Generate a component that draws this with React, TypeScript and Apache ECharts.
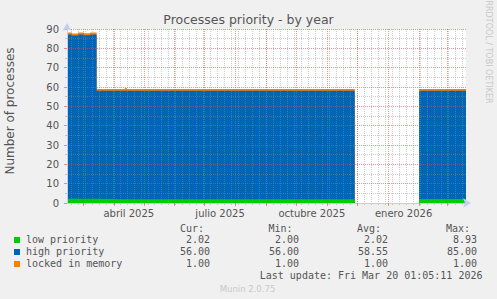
import React, { useEffect, useRef } from "react";
import * as echarts from "echarts";

// ---- data ----
const times = [
  "2025-02-13T01:05:00Z",
  "2025-02-18T00:00:00Z",
  "2025-02-24T00:00:00Z",
  "2025-03-02T00:00:00Z",
  "2025-03-08T00:00:00Z",
  "2025-03-14T18:00:00Z",
  "2025-04-12T00:00:00Z",
  "2025-04-14T00:00:00Z",
  "2025-11-28T12:00:00Z",
  "2025-11-28T12:01:00Z",
  "2026-02-01T00:00:00Z",
  "2026-03-20T01:05:00Z",
];
const lowPriority = [2.2, 2.2, 2.2, 2.2, 2.2, 2.0, 2.0, 2.0, 2.0, null, 2.02, 2.02];
const highPriority = [85, 84.5, 85, 84.6, 85, 56, 56, 56, 56, null, 56, 56];
const lockedInMemory = [1, 1, 1, 1, 1, 1, 1.5, 1, 1, null, 1, 1];

const axisStart = "2025-02-13T01:05:00Z";
const axisEnd = "2026-03-20T01:05:00Z";
const labelMonths = ["2025-04", "2025-07", "2025-10", "2026-01"];
const monthNames = ["enero", "febrero", "marzo", "abril", "mayo", "junio", "julio", "agosto", "septiembre", "octubre", "noviembre", "diciembre"];

const legendRows = [
  { name: "low priority", color: "#00CC00", cur: "2.02", min: "2.00", avg: "2.02", max: "8.93" },
  { name: "high priority", color: "#0066B3", cur: "56.00", min: "56.00", avg: "58.55", max: "85.00" },
  { name: "locked in memory", color: "#FF8000", cur: "1.00", min: "1.00", avg: "1.00", max: "1.00" },
];
const lastUpdate = "Last update: Fri Mar 20 01:05:11 2026";

export default function App() {
  const ref = useRef<HTMLDivElement>(null);
  useEffect(() => {
    if (!ref.current) return;
    const chart = echarts.init(ref.current, null, { renderer: "svg" });
    const t = times.map((s) => Date.parse(s));
    const min = Date.parse(axisStart);
    const max = Date.parse(axisEnd);

    // month boundaries
    const monthTicks: number[] = [];
    for (let y = 2025, m = 0; y < 2027; ) {
      const v = Date.UTC(y, m, 1);
      if (v > min && v < max) monthTicks.push(v);
      m++;
      if (m > 11) { m = 0; y++; }
    }
    // weekly (Mondays)
    const weekTicks: number[] = [];
    const firstMonday = Date.UTC(2025, 1, 17);
    for (let v = firstMonday; v < max; v += 7 * 86400000) weekTicks.push(v);
    const labelVals = labelMonths.map((s) => {
      const [y, m] = s.split("-").map(Number);
      return (Date.UTC(y, m - 1, 1) + Date.UTC(y, m, 1)) / 2;
    });

    // stacked totals (rrdtool AREA + STACK)
    const cum = (...arrs: (number | null)[][]) =>
      t.map((x, i) => {
        if (arrs.some((a) => a[i] === null)) return [x, "-"];
        return [x, arrs.reduce((s, a) => s + (a[i] as number), 0)];
      });

    const majorColor = "rgba(222,79,79,0.6)";
    const minorColor = "rgba(143,143,143,0.45)";
    const axisColor = "#c8ccf2";
    const textColor = "#555";
    const mono = "'DejaVu Sans Mono', monospace";

    const graphics: any[] = [
      { type: "text", x: 248.5, y: 19, style: { text: "Processes priority - by year", fill: textColor, font: "12.5px 'DejaVu Sans'", align: "center", verticalAlign: "middle" } },
      { type: "text", x: 10, y: 111, rotation: Math.PI / 2, style: { text: "Number of processes", fill: textColor, font: "12px 'DejaVu Sans'", align: "center", verticalAlign: "middle" } },
      { type: "text", x: 488, y: 52, rotation: -Math.PI / 2, style: { text: "RRDTOOL / TOBI OETIKER", fill: "#c8c8c8", font: "8px 'DejaVu Sans'", align: "center", verticalAlign: "middle" } },
      { type: "text", x: 204, y: 228, style: { text: "Cur:", fill: textColor, font: "10px " + mono, align: "right", verticalAlign: "middle" } },
      { type: "text", x: 292.5, y: 228, style: { text: "Min:", fill: textColor, font: "10px " + mono, align: "right", verticalAlign: "middle" } },
      { type: "text", x: 381, y: 228, style: { text: "Avg:", fill: textColor, font: "10px " + mono, align: "right", verticalAlign: "middle" } },
      { type: "text", x: 470, y: 228, style: { text: "Max:", fill: textColor, font: "10px " + mono, align: "right", verticalAlign: "middle" } },
      { type: "text", x: 482.5, y: 275.5, style: { text: lastUpdate, fill: textColor, font: "10px " + mono, align: "right", verticalAlign: "middle" } },
      { type: "text", x: 247.5, y: 288.5, style: { text: "Munin 2.0.75", fill: "#c8c8c8", font: "8.5px 'DejaVu Sans'", align: "center", verticalAlign: "middle" } },
    ];
    const rowY = [239.5, 251.5, 263.5];
    legendRows.forEach((r, i) => {
      const y = rowY[i];
      graphics.push({ type: "rect", shape: { x: 14, y: y - 2.5, width: 6, height: 6 }, style: { fill: r.color } });
      graphics.push({ type: "text", x: 26, y, style: { text: r.name, fill: textColor, font: "10px " + mono, align: "left", verticalAlign: "middle" } });
      [[r.cur, 210], [r.min, 299], [r.avg, 388], [r.max, 477]].forEach(([txt, x]) => {
        graphics.push({ type: "text", x, y, style: { text: txt, fill: textColor, font: "10px " + mono, align: "right", verticalAlign: "middle" } });
      });
    });

    const seriesBase = {
      type: "line" as const,
      step: "end" as const,
      showSymbol: false,
      symbol: "none",
      connectNulls: false,
      lineStyle: { width: 0 },
      xAxisIndex: 0,
      yAxisIndex: 0,
      z: 2,
    };

    chart.setOption({
      animation: false,
      backgroundColor: "#F0F0F0",
      grid: { left: 67, top: 29, width: 399, height: 174, show: true, backgroundColor: "#ffffff", borderWidth: 0, containLabel: false },
      xAxis: [
        {
          type: "value",
          min,
          max,
          z: 5,
          axisLine: { show: true, lineStyle: { color: axisColor, width: 1 }, symbol: ["none", "arrow"], symbolSize: [7, 8], symbolOffset: [0, 5] },
          axisTick: { show: true, customValues: monthTicks, length: 3, lineStyle: { color: majorColor } },
          splitLine: { show: true, lineStyle: { color: majorColor, type: [1, 1], width: 1 } },
          axisLabel: {
            show: true,
            customValues: labelVals,
            margin: 5,
            color: textColor,
            fontSize: 10,
            fontFamily: "DejaVu Sans",
            formatter: (v: number) => {
              const d = new Date(v);
              return monthNames[d.getUTCMonth()] + " " + d.getUTCFullYear();
            },
          },
        },
        {
          type: "value",
          min,
          max,
          z: 4,
          position: "bottom",
          axisLine: { show: false },
          axisTick: { show: true, customValues: weekTicks, length: 2, lineStyle: { color: minorColor } },
          splitLine: { show: true, lineStyle: { color: minorColor, type: [1, 1], width: 1 } },
          axisLabel: { show: false },
        },
      ],
      yAxis: {
        type: "value",
        min: 0,
        max: 90,
        interval: 10,
        z: 5,
        axisLine: { show: true, lineStyle: { color: axisColor, width: 1 }, symbol: ["none", "arrow"], symbolSize: [7, 8], symbolOffset: [0, 6] },
        axisTick: { show: true, length: 3, lineStyle: { color: majorColor } },
        minorTick: { show: true, splitNumber: 2, length: 2, lineStyle: { color: minorColor } },
        splitLine: { show: true, lineStyle: { color: majorColor, type: [1, 1], width: 1 } },
        minorSplitLine: { show: true, lineStyle: { color: minorColor, type: [1, 1], width: 1 } },
        axisLabel: { color: textColor, fontSize: 10, fontFamily: "DejaVu Sans", margin: 8 },
      },
      series: [
        { ...seriesBase, name: "locked in memory", data: cum(lowPriority, highPriority, lockedInMemory), areaStyle: { color: "#FF8000", opacity: 1 } },
        { ...seriesBase, name: "high priority", data: cum(lowPriority, highPriority), areaStyle: { color: "#0066B3", opacity: 1 } },
        { ...seriesBase, name: "low priority", data: cum(lowPriority), areaStyle: { color: "#00CC00", opacity: 1 } },
      ],
      graphic: graphics,
    });
    return () => chart.dispose();
  }, []);
  return <div ref={ref} style={{ position: "fixed", left: 0, top: 0, width: 497, height: 299 }} />;
}
